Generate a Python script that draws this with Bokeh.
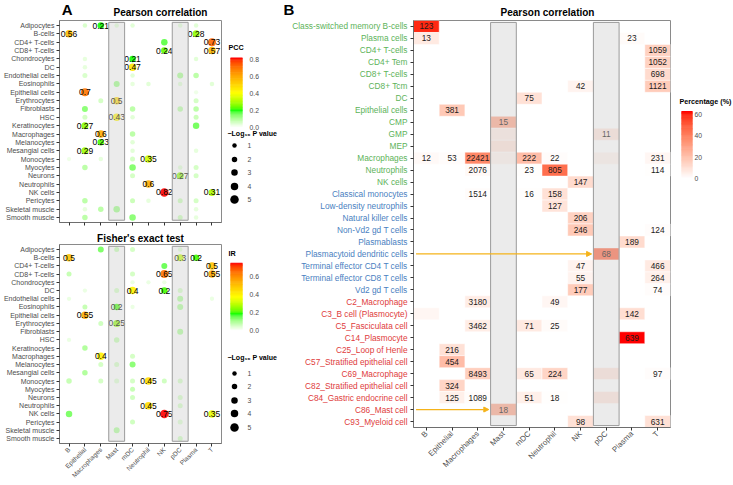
import math
from bokeh.plotting import figure
from bokeh.models import (Range1d, FixedTicker, ColumnDataSource, LinearColorMapper,
                          Arrow, NormalHead, CustomJSTickFormatter)
from bokeh.layouts import row, column
from bokeh.embed import file_html
from bokeh.resources import INLINE
from bokeh.core.properties import value

# ---------------------------------------------------------------- data
clusters = ["B", "Epithelial", "Macrophages", "Mast", "mDC", "Neutrophil", "NK", "pDC", "Plasma", "T"]
shaded_clusters = ["Mast", "pDC"]

a_cells = ["Adipocytes", "B-cells", "CD4+ T-cells", "CD8+ T-cells", "Chondrocytes", "DC",
           "Endothelial cells", "Eosinophils", "Epithelial cells", "Erythrocytes", "Fibroblasts", "HSC",
           "Keratinocytes", "Macrophages", "Melanocytes", "Mesangial cells", "Monocytes", "Myocytes",
           "Neurons", "Neutrophils", "NK cells", "Pericytes", "Skeletal muscle", "Smooth muscle"]

# Panel A, top: Pearson correlation
pcc_cell = ["Adipocytes"] * 6 + ["B-cells"] * 2 + ["CD4+ T-cells"] * 2 + ["CD8+ T-cells"] * 2 + \
           ["Chondrocytes"] * 3 + ["DC"] * 2 + ["Endothelial cells"] * 4 + ["Eosinophils"] * 5 + \
           ["Epithelial cells"] * 2 + ["Erythrocytes"] * 3 + ["Fibroblasts"] * 4 + ["HSC"] * 4 + \
           ["Keratinocytes"] * 2 + ["Macrophages"] * 2 + ["Melanocytes"] * 2 + ["Mesangial cells"] * 3 + \
           ["Monocytes"] * 4 + ["Myocytes"] * 4 + ["Neurons"] * 3 + ["Neutrophils"] * 1 + \
           ["NK cells"] * 2 + ["Pericytes"] * 5 + ["Skeletal muscle"] * 4 + ["Smooth muscle"] * 4
pcc_cluster = ["Epithelial", "Macrophages", "Mast", "mDC", "pDC", "Plasma",
               "B", "Plasma",
               "NK", "T",
               "NK", "T",
               "Epithelial", "mDC", "Plasma",
               "Epithelial", "mDC",
               "Epithelial", "mDC", "pDC", "Plasma",
               "Mast", "mDC", "Neutrophil", "pDC", "T",
               "Epithelial", "Plasma",
               "Macrophages", "Mast", "Plasma",
               "Epithelial", "mDC", "pDC", "Plasma",
               "Epithelial", "Mast", "mDC", "Plasma",
               "Epithelial", "Plasma",
               "Macrophages", "mDC",
               "Macrophages", "mDC",
               "Epithelial", "mDC", "Plasma",
               "B", "Macrophages", "mDC", "Neutrophil",
               "Epithelial", "mDC", "pDC", "Plasma",
               "mDC", "pDC", "Plasma",
               "Neutrophil",
               "NK", "T",
               "Epithelial", "mDC", "Neutrophil", "pDC", "Plasma",
               "Epithelial", "Macrophages", "Mast", "Plasma",
               "Epithelial", "mDC", "pDC", "Plasma"]
pcc_value = [0.06, 0.21, 0.05, 0.05, 0.05, 0.05,
             0.56, 0.28,
             0.18, 0.73,
             0.24, 0.57,
             0.04, 0.21, 0.05,
             0.04, 0.47,
             0.06, 0.05, 0.12, 0.10,
             0.13, 0.04, 0.05, 0.05, 0.05,
             0.70, 0.03,
             0.07, 0.50, 0.07,
             0.15, 0.10, 0.10, 0.10,
             0.07, 0.43, 0.05, 0.08,
             0.27, 0.17,
             0.60, 0.10,
             0.23, 0.05,
             0.29, 0.05, 0.04,
             0.03, 0.04, 0.07, 0.35,
             0.10, 0.16, 0.05, 0.07,
             0.07, 0.27, 0.07,
             0.60,
             0.82, 0.31,
             0.10, 0.08, 0.04, 0.08, 0.07,
             0.04, 0.10, 0.13, 0.04,
             0.10, 0.15, 0.08, 0.04]
pcc_logp = [1.0, 3.0, 1.0, 1.0, 1.0, 1.0,
            4.0, 3.5,
            3.0, 4.5,
            3.0, 4.0,
            1.0, 3.0, 1.0,
            1.0, 4.0,
            1.5, 1.0, 2.5, 2.0,
            2.5, 1.0, 1.0, 1.0, 1.0,
            4.5, 0.8,
            1.5, 4.0, 1.5,
            2.5, 2.0, 2.0, 2.0,
            1.5, 4.0, 1.0, 1.5,
            3.5, 3.0,
            4.0, 2.0,
            3.0, 1.0,
            3.5, 1.0, 1.0,
            0.8, 1.0, 1.5, 4.0,
            2.0, 3.0, 1.0, 1.5,
            1.5, 3.5, 1.5,
            4.0,
            5.0, 3.5,
            2.0, 1.5, 1.0, 1.5, 1.5,
            1.0, 2.0, 3.0, 1.0,
            2.0, 3.0, 1.5, 1.0]

# Panel A, bottom: Fisher's exact test
ir_cell = ["Adipocytes"] * 4 + ["B-cells"] * 3 + ["CD4+ T-cells"] * 2 + ["CD8+ T-cells"] * 4 + \
          ["Chondrocytes"] * 3 + ["DC"] * 5 + ["Endothelial cells"] * 3 + ["Eosinophils"] * 4 + \
          ["Epithelial cells"] * 1 + ["Erythrocytes"] * 2 + ["Fibroblasts"] * 1 + ["HSC"] * 2 + \
          ["Keratinocytes"] * 1 + ["Macrophages"] * 2 + ["Melanocytes"] * 3 + ["Mesangial cells"] * 1 + \
          ["Monocytes"] * 7 + ["Myocytes"] * 1 + ["Neurons"] * 2 + ["Neutrophils"] * 2 + \
          ["NK cells"] * 3 + ["Pericytes"] * 2 + ["Skeletal muscle"] * 1 + ["Smooth muscle"] * 1
ir_cluster = ["Macrophages", "Mast", "mDC", "pDC",
              "B", "pDC", "Plasma",
              "NK", "T",
              "B", "mDC", "NK", "T",
              "mDC", "Neutrophil", "NK",
              "Epithelial", "Mast", "mDC", "NK", "pDC",
              "B", "pDC", "T",
              "Epithelial", "Mast", "mDC", "pDC",
              "Epithelial",
              "Macrophages", "Mast",
              "pDC",
              "B", "Mast",
              "Epithelial",
              "Macrophages", "mDC",
              "Macrophages", "Mast", "mDC",
              "Epithelial",
              "B", "Macrophages", "Mast", "mDC", "Neutrophil", "NK", "pDC",
              "mDC",
              "mDC", "pDC",
              "Neutrophil", "pDC",
              "B", "NK", "T",
              "mDC", "pDC",
              "Mast",
              "pDC"]
ir_value = [0.15, 0.08, 0.06, 0.05,
            0.50, 0.30, 0.20,
            0.16, 0.50,
            0.08, 0.06, 0.65, 0.55,
            0.03, 0.03, 0.03,
            0.03, 0.06, 0.40, 0.20, 0.06,
            0.03, 0.10, 0.03,
            0.08, 0.20, 0.03, 0.10,
            0.55,
            0.07, 0.25,
            0.10,
            0.03, 0.08,
            0.10,
            0.40, 0.06,
            0.06, 0.06, 0.14,
            0.10,
            0.08, 0.06, 0.05, 0.06, 0.45, 0.07, 0.06,
            0.08,
            0.07, 0.06,
            0.45, 0.06,
            0.15, 0.75, 0.35,
            0.07, 0.05,
            0.10,
            0.07]
ir_logp = [2.5, 1.5, 1.5, 1.0,
           4.0, 3.5, 3.0,
           2.5, 4.0,
           1.5, 1.5, 4.5, 4.0,
           0.8, 0.8, 0.8,
           0.8, 1.5, 4.0, 3.0, 1.5,
           0.8, 2.5, 0.8,
           1.5, 3.0, 0.8, 2.5,
           4.0,
           1.5, 3.5,
           2.5,
           0.8, 2.0,
           2.0,
           4.0, 1.5,
           1.5, 1.5, 2.5,
           2.0,
           2.0, 1.5, 1.5, 1.5, 4.0, 1.5, 1.5,
           1.5,
           1.5, 1.5,
           4.0, 1.5,
           3.0, 5.0, 4.0,
           1.5, 1.5,
           2.5,
           1.5]

# Panel B: reference cell types (three reference sets)
b_cells_set1 = ["Class-switched memory B-cells", "Plasma cells", "CD4+ T-cells", "CD4+ Tem", "CD8+ T-cells",
                "CD8+ Tcm", "DC", "Epithelial cells", "CMP", "GMP", "MEP", "Macrophages", "Neutrophils", "NK cells"]
b_cells_set2 = ["Classical monocytes", "Low-density neutrophils", "Natural killer cells", "Non-Vd2 gd T cells",
                "Plasmablasts", "Plasmacytoid dendritic cells", "Terminal effector CD4 T cells",
                "Terminal effector CD8 T cells", "Vd2 gd T cells"]
b_cells_set3 = ["C2_Macrophage", "C3_B cell (Plasmocyte)", "C5_Fasciculata cell", "C14_Plasmocyte",
                "C25_Loop of Henle", "C57_Stratified epithelial cell", "C69_Macrophage",
                "C82_Stratified epithelial cell", "C84_Gastric endocrine cell", "C86_Mast cell", "C93_Myeloid cell"]

hm_cell = ["Class-switched memory B-cells", "Plasma cells", "Plasma cells", "CD4+ T-cells", "CD4+ Tem",
           "CD8+ T-cells", "CD8+ Tcm", "CD8+ Tcm", "DC", "Epithelial cells", "CMP", "GMP", "GMP", "MEP",
           "Macrophages", "Macrophages", "Macrophages", "Macrophages", "Macrophages", "Macrophages",
           "Macrophages", "Macrophages",
           "Neutrophils", "Neutrophils", "Neutrophils", "Neutrophils", "NK cells",
           "Classical monocytes", "Classical monocytes", "Classical monocytes", "Low-density neutrophils",
           "Natural killer cells", "Non-Vd2 gd T cells", "Non-Vd2 gd T cells", "Plasmablasts",
           "Plasmacytoid dendritic cells", "Terminal effector CD4 T cells", "Terminal effector CD4 T cells",
           "Terminal effector CD8 T cells", "Terminal effector CD8 T cells", "Vd2 gd T cells", "Vd2 gd T cells",
           "C2_Macrophage", "C2_Macrophage", "C3_B cell (Plasmocyte)", "C3_B cell (Plasmocyte)",
           "C5_Fasciculata cell", "C5_Fasciculata cell", "C5_Fasciculata cell", "C14_Plasmocyte",
           "C25_Loop of Henle", "C57_Stratified epithelial cell",
           "C69_Macrophage", "C69_Macrophage", "C69_Macrophage", "C69_Macrophage", "C69_Macrophage",
           "C82_Stratified epithelial cell",
           "C84_Gastric endocrine cell", "C84_Gastric endocrine cell", "C84_Gastric endocrine cell",
           "C84_Gastric endocrine cell", "C84_Gastric endocrine cell",
           "C86_Mast cell", "C93_Myeloid cell", "C93_Myeloid cell"]
hm_cluster = ["B", "B", "Plasma", "T", "T",
              "T", "NK", "T", "mDC", "Epithelial", "Mast", "Mast", "pDC", "Mast",
              "B", "Epithelial", "Macrophages", "Mast", "mDC", "Neutrophil", "pDC", "T",
              "Macrophages", "mDC", "Neutrophil", "T", "NK",
              "Macrophages", "mDC", "Neutrophil", "Neutrophil",
              "NK", "NK", "T", "Plasma",
              "pDC", "NK", "T",
              "NK", "T", "NK", "T",
              "Macrophages", "Neutrophil", "B", "Plasma",
              "Macrophages", "mDC", "Neutrophil", "Plasma",
              "Epithelial", "Epithelial",
              "Macrophages", "mDC", "Neutrophil", "pDC", "T",
              "Epithelial",
              "Epithelial", "Macrophages", "mDC", "Neutrophil", "pDC",
              "Mast", "NK", "T"]
hm_count = [123, 13, 23, 1059, 1052,
            698, 42, 1121, 75, 381, 15, None, 11, None,
            12, 53, 22421, None, 222, 22, None, 231,
            2076, 23, 805, 114, 147,
            1514, 16, 158, 127,
            206, 246, 124, 189,
            68, 47, 466,
            55, 264, 177, 74,
            3180, 49, None, 142,
            3462, 71, 25, 639,
            216, 454,
            8493, 65, 224, None, 97,
            324,
            125, 1089, 51, 18, None,
            18, 98, 631]
hm_pct = [60, 7, 1.5, 15, 15,
          12, 4, 17, 10, 18, 28, 6, 8, 9,
          2, 1, 38, 4, 22, 1, 4, 3,
          2, 0.5, 45, 0.5, 12,
          1, 0.5, 10, 9,
          15, 18, 1, 12,
          45, 4, 7,
          4, 5, 17, 1,
          6, 3, 3, 11,
          6, 7, 1.5, 63,
          10, 22,
          16, 7, 14, 8, 1,
          14,
          5, 1, 5, 0.5, 8,
          28, 10, 10]

pcc_ticks = [0.0, 0.2, 0.4, 0.6, 0.8]
ir_ticks = [0.0, 0.2, 0.4, 0.6]
pct_ticks = [0, 20, 40, 60]
logp_ticks = [1, 2, 3, 4, 5]

# ---------------------------------------------------------------- style helpers
FONT = "Liberation Sans"
GREY30 = "#4d4d4d"
SET_COLORS = ["#5db35a", "#4a7fc1", "#e03c3c"]
ARROW_COL = "#f5b31a"


def _hex2rgb(h):
    h = h.lstrip("#")
    return [int(h[i:i + 2], 16) for i in (0, 2, 4)]


def _to_lab(rgb):
    def lin(c):
        c = c / 255.0
        return c / 12.92 if c <= 0.04045 else ((c + 0.055) / 1.055) ** 2.4
    r, g, b = [lin(c) for c in rgb]
    X = (0.4124564 * r + 0.3575761 * g + 0.1804375 * b) / 0.95047
    Y = 0.2126729 * r + 0.7151522 * g + 0.0721750 * b
    Z = (0.0193339 * r + 0.1191920 * g + 0.9503041 * b) / 1.08883

    def f(t):
        return t ** (1 / 3) if t > 216 / 24389 else (24389 / 27 * t + 16) / 116
    fx, fy, fz = f(X), f(Y), f(Z)
    return (116 * fy - 16, 500 * (fx - fy), 200 * (fy - fz))


def _from_lab(L, a, b):
    fy = (L + 16) / 116
    fx = fy + a / 500
    fz = fy - b / 200

    def finv(t):
        return t ** 3 if t ** 3 > 216 / 24389 else (116 * t - 16) / (24389 / 27)
    X, Y, Z = finv(fx) * 0.95047, finv(fy), finv(fz) * 1.08883
    r = 3.2404542 * X - 1.5371385 * Y - 0.4985314 * Z
    g = -0.9692660 * X + 1.8760108 * Y + 0.0415560 * Z
    bb = 0.0556434 * X - 0.2040259 * Y + 1.0572252 * Z

    def enc(c):
        c = max(0.0, min(1.0, c))
        v = 12.92 * c if c <= 0.0031308 else 1.055 * c ** (1 / 2.4) - 0.055
        return int(round(max(0.0, min(1.0, v)) * 255))
    return "#%02x%02x%02x" % (enc(r), enc(g), enc(bb))


def ramp(colors, n=128):
    labs = [_to_lab(_hex2rgb(c)) for c in colors]
    k = len(colors) - 1
    out = []
    for i in range(n):
        t = i / (n - 1) * k
        j = min(int(t), k - 1)
        u = t - j
        out.append(_from_lab(*[labs[j][m] + (labs[j + 1][m] - labs[j][m]) * u for m in range(3)]))
    return out


dot_pal = ramp(["#ffffff", "#00ff00", "#ffff00", "#ffa500", "#ff0000"])
heat_pal = ramp(["#ffffff", "#ff0000"])


def dot_size(lp):
    return 3.5 + lp


def fmt_num(v):
    return "%g" % v


def style_axes(p):
    p.grid.visible = False
    p.outline_line_color = "#8a8a8a"
    for ax in p.axis:
        ax.axis_line_color = "#6e6e6e"
        ax.major_tick_line_color = "#333333"
        ax.major_tick_out = 3
        ax.major_tick_in = 0
        ax.minor_tick_line_color = None
        ax.major_label_text_color = GREY30
        ax.major_label_text_font = FONT
        ax.major_label_standoff = 2


def blank(width, height, yr=None, top=0, bottom=0):
    return figure(width=width, height=height, x_range=Range1d(0, width),
                  y_range=yr if yr is not None else Range1d(height, 0),
                  x_axis_type=None, y_axis_type=None, output_backend="svg", toolbar_location=None,
                  min_border_left=0, min_border_right=0, min_border_top=top, min_border_bottom=bottom,
                  outline_line_color=None)


def txt(p, x, y, t, size, bold=False, color="black", align="left"):
    p.text(x=x, y=y, text=t, text_font=value(FONT), text_font_size=size,
           text_font_style="bold" if bold else "normal", text_color=color,
           text_baseline="middle", text_align=align)


xpos = {c: i + 1 for i, c in enumerate(clusters)}
x_overrides = {i + 1: c for i, c in enumerate(clusters)}

# ---------------------------------------------------------------- panel A
A_W = 223


def dot_panel(title, cells, cls, vals, lps, height, top, bottom, show_x):
    n = len(a_cells)
    kw = dict(title=title) if title else {}
    p = figure(width=A_W, height=height,
               x_range=Range1d(0.4, len(clusters) + 0.6), y_range=Range1d(n + 0.6, 0.4),
               output_backend="svg", toolbar_location=None,
               min_border_left=57, min_border_right=2, min_border_top=top, min_border_bottom=bottom, **kw)
    if title:
        p.title.align = "center"
        p.title.text_font = FONT
        p.title.text_font_size = "10px"
        p.title.text_font_style = "bold"
        p.title.text_color = "black"
        p.title.standoff = 2
    style_axes(p)
    ypos = {c: i + 1 for i, c in enumerate(a_cells)}
    p.yaxis.ticker = FixedTicker(ticks=[i + 1 for i in range(n)])
    p.yaxis.major_label_overrides = {i + 1: c for i, c in enumerate(a_cells)}
    p.yaxis.major_label_text_font_size = "7px"
    p.xaxis.ticker = FixedTicker(ticks=[i + 1 for i in range(len(clusters))])
    if show_x:
        p.xaxis.major_label_overrides = x_overrides
        p.xaxis.major_label_orientation = math.pi / 4
        p.xaxis.major_label_text_font_size = "6.5px"
    else:
        p.xaxis.formatter = CustomJSTickFormatter(code="return ''")

    mapper = LinearColorMapper(palette=dot_pal, low=0, high=max(vals))
    src = ColumnDataSource(dict(x=[xpos[c] for c in cls], y=[ypos[c] for c in cells],
                                v=vals, s=[dot_size(l) for l in lps]))
    p.scatter("x", "y", size="s", source=src, fill_color={"field": "v", "transform": mapper},
              line_color=None, fill_alpha=0.9)
    lab = [(xpos[c], ypos[ce], fmt_num(v)) for c, ce, v in zip(cls, cells, vals) if v >= 0.195]
    p.text(x=[l[0] for l in lab], y=[l[1] for l in lab], text=[l[2] for l in lab],
           text_align="center", text_baseline="middle", text_font=value(FONT),
           text_font_size="8.5px", text_color="black")
    for sc in shaded_clusters:
        p.quad(left=[xpos[sc] - 0.5], right=[xpos[sc] + 0.5], top=[0.62], bottom=[n + 0.33],
               fill_color="#cccccc", fill_alpha=0.4, line_color="#9a9a9a", line_width=1)
    return p


hdrA = blank(A_W, 19)
txt(hdrA, [3], [9], ["A"], "15px", bold=True)
txt(hdrA, [139], [11.5], ["Pearson correlation"], "10px", bold=True, align="center")
pA1 = dot_panel(None, pcc_cell, pcc_cluster, pcc_value, pcc_logp, 208, 1, 5, False)
pA2 = dot_panel("Fisher's exact test", ir_cell, ir_cluster, ir_value, ir_logp, 257, 17, 40, True)


# ---------------------------------------------------------------- legend for A
def colorbar(p, pal, vmax, ticks, fmt, x0, w, y0, ppu, title, ty, lx):
    n = len(pal)
    step = vmax / n
    p.quad(left=x0, right=x0 + w, bottom=[y0 - i * step * ppu + 0.3 for i in range(n)],
           top=[y0 - (i + 1) * step * ppu - 0.3 for i in range(n)], fill_color=pal, line_color=None)
    txt(p, [lx] * len(ticks), [y0 - t * ppu for t in ticks], [fmt(t) for t in ticks],
        "6.8px", color=GREY30)
    txt(p, [x0 - 2], [ty], [title], "7.2px", bold=True)


def size_legend(p, ty, ys):
    txt(p, [4], [ty], ["\u2212Log\u2081\u2080 P value"], "7px", bold=True)
    p.scatter(x=[11] * len(logp_ticks), y=ys, size=[dot_size(l) for l in logp_ticks],
              fill_color="black", line_color=None)
    txt(p, [24] * len(logp_ticks), ys, [str(l) for l in logp_ticks], "6.8px", color=GREY30)


legA = blank(57, 484)
colorbar(legA, dot_pal, max(pcc_value), pcc_ticks, lambda t: "%.1f" % t, 7, 12, 127, 85, "PCC", 47, 26)
size_legend(legA, 133, [145, 159, 172, 186, 199])
colorbar(legA, dot_pal, max(ir_value), ir_ticks, lambda t: "%.1f" % t, 7, 12, 330, 90, "IR", 253, 26)
size_legend(legA, 357, [373, 386, 400, 413, 427])

# ---------------------------------------------------------------- panel B
b_cells = b_cells_set1 + b_cells_set2 + b_cells_set3
b_set = [0] * len(b_cells_set1) + [1] * len(b_cells_set2) + [2] * len(b_cells_set3)
nb = len(b_cells)
bpos = {c: i + 1 for i, c in enumerate(b_cells)}
LAB_W, B_W, B_H = 128, 265, 465

pB = figure(width=B_W, height=B_H,
            x_range=Range1d(0.5, len(clusters) + 0.5), y_range=Range1d(nb + 0.5, 0.5),
            output_backend="svg", toolbar_location=None,
            min_border_left=5, min_border_right=3, min_border_top=1, min_border_bottom=57)
style_axes(pB)
pB.yaxis.ticker = FixedTicker(ticks=[i + 1 for i in range(nb)])
pB.yaxis.formatter = CustomJSTickFormatter(code="return ''")
pB.yaxis.major_label_standoff = 0
pB.xaxis.ticker = FixedTicker(ticks=[i + 1 for i in range(len(clusters))])
pB.xaxis.major_label_overrides = x_overrides
pB.xaxis.major_label_orientation = math.pi / 4
pB.xaxis.major_label_text_font_size = "7.8px"

heat_mapper = LinearColorMapper(palette=heat_pal, low=0, high=max(hm_pct))
hsrc = ColumnDataSource(dict(x=[xpos[c] for c in hm_cluster], y=[bpos[c] for c in hm_cell], pct=hm_pct))
pB.rect("x", "y", width=1, height=1, source=hsrc,
        fill_color={"field": "pct", "transform": heat_mapper}, line_color="white", line_width=0.5)
lab = [(xpos[c], bpos[ce], str(n)) for c, ce, n in zip(hm_cluster, hm_cell, hm_count) if n is not None]
pB.text(x=[l[0] for l in lab], y=[l[1] for l in lab], text=[l[2] for l in lab],
        text_align="center", text_baseline="middle", text_font=value(FONT),
        text_font_size="8.3px", text_color="#1a1a1a")
for sc in shaded_clusters:
    pB.quad(left=[xpos[sc] - 0.5], right=[xpos[sc] + 0.5], top=[0.66], bottom=[nb + 0.34],
            fill_color="#cccccc", fill_alpha=0.4, line_color="#9a9a9a", line_width=1)
for target_cell, target_cluster in [("Plasmacytoid dendritic cells", "pDC"), ("C86_Mast cell", "Mast")]:
    yy = bpos[target_cell]
    pB.add_layout(Arrow(end=NormalHead(size=5, fill_color=ARROW_COL, line_color=ARROW_COL),
                        x_start=0.6, y_start=yy, x_end=xpos[target_cluster] - 0.57, y_end=yy,
                        line_color=ARROW_COL, line_width=1.3))

# y labels of panel B (three colours) in a strip sharing the y scale
labB = blank(LAB_W, B_H, yr=pB.y_range, top=1, bottom=57)
txt(labB, [LAB_W - 1] * nb, [bpos[c] for c in b_cells], b_cells, "8.3px",
    color=[SET_COLORS[s] for s in b_set], align="right")

hdrB = blank(LAB_W + B_W, 19)
txt(hdrB, [3], [9], ["B"], "15px", bold=True)
txt(hdrB, [267], [11.5], ["Pearson correlation"], "10px", bold=True, align="center")

legB = blank(59, 484)
colorbar(legB, heat_pal, max(hm_pct), pct_ticks, lambda t: "%d" % t, 8, 11, 178, 1.067,
         "Percentage (%)", 101, 21)

layout = row(column(hdrA, pA1, pA2), legA, column(hdrB, row(labB, pB)), legB)
open("out.html", "w").write(file_html(layout, INLINE))
